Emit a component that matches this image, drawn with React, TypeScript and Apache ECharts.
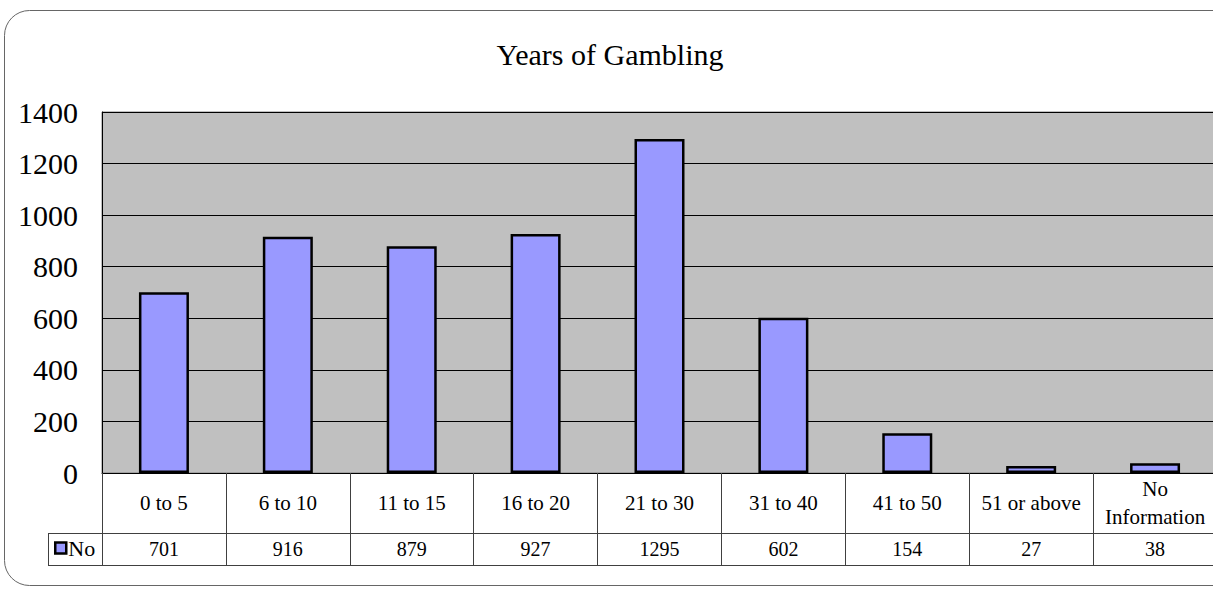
import React, { useEffect, useRef } from "react";
import * as echarts from "echarts";

const categories = ["0 to 5", "6 to 10", "11 to 15", "16 to 20", "21 to 30", "31 to 40", "41 to 50", "51 or above", "No\nInformation"];
const seriesName = "No";
const values = [701, 916, 879, 927, 1295, 602, 154, 27, 38];
const yTicks = { min: 0, max: 1400, interval: 200 };
const title = "Years of Gambling";

const FONT = "'Liberation Serif', 'Times New Roman', serif";

export default function App() {
  const ref = useRef<HTMLDivElement>(null);
  useEffect(() => {
    if (!ref.current) return;
    const chart = echarts.init(ref.current, undefined, { renderer: "svg" });
    const tableLine = "#404040";
    chart.setOption({
      animation: false,
      backgroundColor: "#ffffff",
      title: {
        text: title,
        left: "center",
        top: 34,
        textStyle: { fontFamily: FONT, fontSize: 30, fontWeight: "normal", color: "#000" },
      },
      legend: {
        left: 54,
        top: 537,
        itemWidth: 11,
        itemHeight: 11,
        itemGap: 5,
        padding: 0,
        data: [{ name: seriesName, icon: "rect" }],
        itemStyle: { color: "#9999FF", borderColor: "#000", borderWidth: 2.5 },
        textStyle: { fontFamily: FONT, fontSize: 22, color: "#000", padding: [0, 0, 0, -3] },
      },
      grid: {
        left: 102,
        right: 3,
        top: 112,
        bottom: 116,
        show: true,
        backgroundColor: "#C0C0C0",
        borderColor: "#808080",
        borderWidth: 1,
      },
      xAxis: [
        {
          type: "category",
          data: categories,
          position: "bottom",
          axisLine: { show: true, lineStyle: { color: "#000", width: 1 } },
          axisTick: { show: true, inside: false, length: 92, lineStyle: { color: tableLine, width: 1 } },
          axisLabel: {
            fontFamily: FONT,
            fontSize: 21,
            color: "#000",
            margin: 30,
            verticalAlign: "middle",
            lineHeight: 28,
            interval: 0,
          },
        },
        {
          type: "category",
          data: values.map((v) => String(v)),
          position: "bottom",
          offset: 60,
          axisLine: { show: false },
          axisTick: { show: false },
          axisLabel: {
            fontFamily: FONT,
            fontSize: 20,
            color: "#000",
            margin: 16,
            verticalAlign: "middle",
            interval: 0,
          },
        },
      ],
      yAxis: {
        type: "value",
        min: yTicks.min,
        max: yTicks.max,
        interval: yTicks.interval,
        axisLine: { show: true, lineStyle: { color: "#000", width: 1 } },
        axisTick: { show: true, inside: true, length: 7, lineStyle: { color: "#000" } },
        splitLine: { show: true, lineStyle: { color: "#000", width: 1 } },
        axisLabel: {
          fontFamily: FONT,
          fontSize: 30,
          color: "#000",
          margin: 24,
          formatter: (v: number) => String(v),
        },
      },
      series: [
        {
          name: seriesName,
          type: "bar",
          data: values,
          barWidth: 50,
          itemStyle: { color: "#9999FF", borderColor: "#000", borderWidth: 2.5 },
        },
      ],
      graphic: [
        {
          type: "rect",
          shape: { x: 4.5, y: 10.5, width: 1240, height: 575, r: 25 },
          style: { fill: "none", stroke: "#666", lineWidth: 1 },
          silent: true,
          z: 0,
        },
        {
          type: "line",
          shape: { x1: 48, y1: 533.5, x2: 1220, y2: 533.5 },
          style: { stroke: tableLine, lineWidth: 1 },
          silent: true,
        },
        {
          type: "line",
          shape: { x1: 48, y1: 565.5, x2: 1220, y2: 565.5 },
          style: { stroke: tableLine, lineWidth: 1 },
          silent: true,
        },
        {
          type: "line",
          shape: { x1: 48.5, y1: 533.5, x2: 48.5, y2: 565.5 },
          style: { stroke: tableLine, lineWidth: 1 },
          silent: true,
        },
      ],
    });
    return () => chart.dispose();
  }, []);
  return (
    <div style={{ position: "fixed", left: 0, top: 0, width: 1213, height: 589, overflow: "hidden" }}>
      <div ref={ref} style={{ width: 1220, height: 589 }} />
    </div>
  );
}
